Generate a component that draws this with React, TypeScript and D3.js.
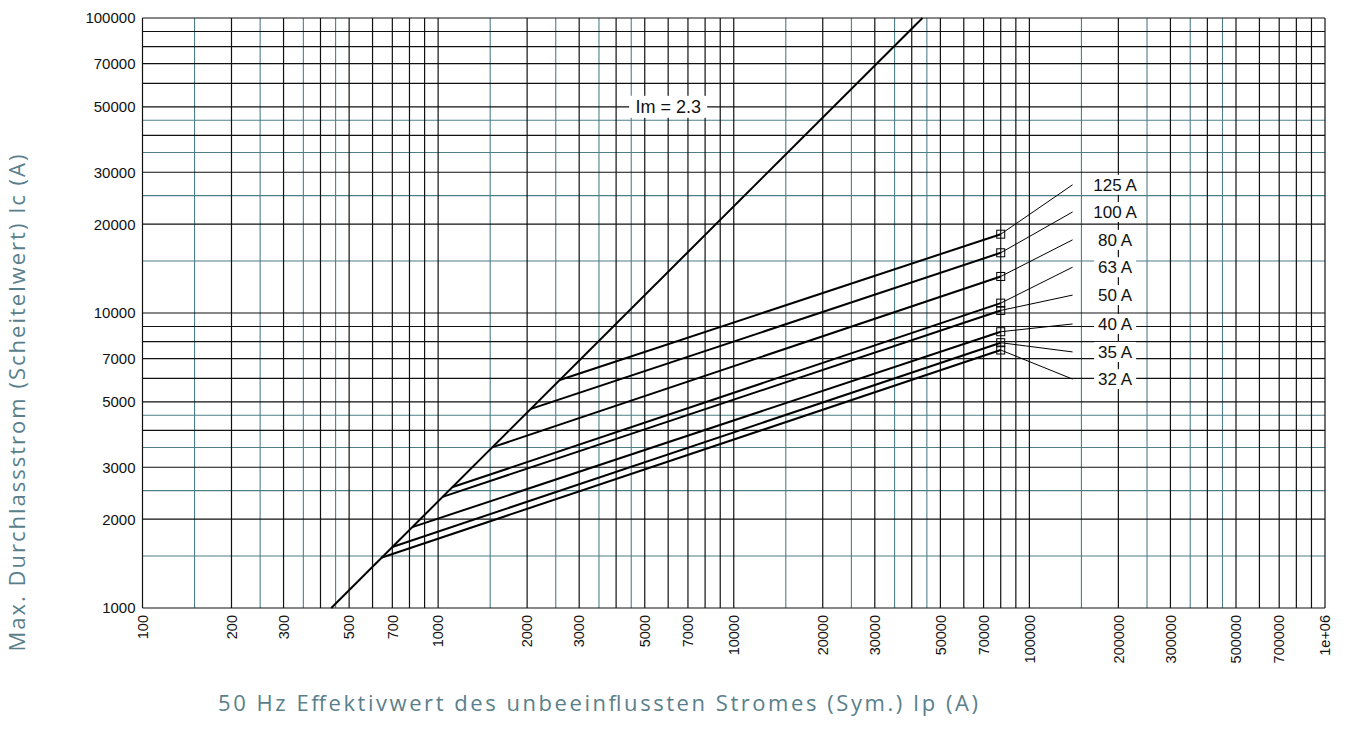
import * as d3 from "d3";

// Ip axis (x) and Ic axis (y) tick labels
const X_TICKS = [100, 200, 300, 500, 700, 1000, 2000, 3000, 5000, 7000, 10000, 20000, 30000, 50000, 70000, 100000, 200000, 300000, 500000, 700000, 1000000];
const Y_TICKS = [1000, 2000, 3000, 5000, 7000, 10000, 20000, 30000, 50000, 70000, 100000];

// grid: black lines at 1..9 per decade, teal lines at 1.5 / 2.5 / 3.5 / 4.5
const MAJOR_MULT = [1, 2, 3, 4, 5, 6, 7, 8, 9];
const MINOR_MULT = [1.5, 2.5, 3.5, 4.5];
const X_DECADES = [100, 1000, 10000, 100000];
const Y_DECADES = [1000, 10000];

// Im = 2.3 line
const IM_IP = [435, 43500];
const IM_IC = [1000, 100000];

// fuse curves: knee on the Im line, end point with marker
const FUSES = ["125 A", "100 A", "80 A", "63 A", "50 A", "40 A", "35 A", "32 A"];
const KNEE_IP = [2580, 2060, 1530, 1120, 1035, 818, 700, 642];
const KNEE_IC = [5930, 4730, 3510, 2570, 2380, 1880, 1610, 1480];
const END_IP = 80000;
const END_IC = [18500, 16000, 13300, 10800, 10200, 8640, 7930, 7490];
// label positions (Ic) in the legend column
const LABEL_IC = [27200, 22000, 17700, 14300, 11500, 9180, 7380, 5970];
const LABEL_IP = 195000;
const LEADER_IP = 140000;

const W = 1347;
const H = 740;
const TEAL = "#4e7f88";
const TITLE = "#5a7f8c";

export default function App() {
  const x = d3.scaleLog().domain([100, 1e6]).range([142.5, 1325]);
  const y = d3.scaleLog().domain([1000, 100000]).range([608, 18]);

  const xMajor = X_DECADES.flatMap((d) => MAJOR_MULT.map((m) => d * m)).concat([1e6]);
  const xMinor = X_DECADES.flatMap((d) => MINOR_MULT.map((m) => d * m));
  const yMajor = Y_DECADES.flatMap((d) => MAJOR_MULT.map((m) => d * m)).concat([100000]);
  const yMinor = Y_DECADES.flatMap((d) => MINOR_MULT.map((m) => d * m));

  const [x0, x1] = x.range();
  const [y0, y1] = y.range();

  const line = d3
    .line<[number, number]>()
    .x((d) => x(d[0]))
    .y((d) => y(d[1]));

  const imPts: [number, number][] = IM_IP.map((v, i) => [v, IM_IC[i]]);
  const fmt = (v: number) => (v >= 1e6 ? "1e+06" : String(v));
  const font = "'Liberation Sans', Arial, Helvetica, sans-serif";
  const titleFont = "'Open Sans', 'Noto Sans', sans-serif";

  return (
    <div style={{ position: "absolute", left: 0, top: 0 }}>
      <svg width={W} height={H} style={{ display: "block", background: "#fff" }}>
        <rect width={W} height={H} fill="#fff" />
        {/* teal minor grid */}
        <g stroke={TEAL} strokeWidth={1.1}>
          {xMinor.map((v) => (
            <line key={"xm" + v} x1={x(v)} x2={x(v)} y1={y0} y2={y1} />
          ))}
          {yMinor.map((v) => (
            <line key={"ym" + v} x1={x0} x2={x1} y1={y(v)} y2={y(v)} />
          ))}
        </g>
        {/* black major grid */}
        <g stroke="#111" strokeWidth={1.2}>
          {xMajor.map((v) => (
            <line key={"xM" + v} x1={x(v)} x2={x(v)} y1={y0} y2={y1} />
          ))}
          {yMajor.map((v) => (
            <line key={"yM" + v} x1={x0} x2={x1} y1={y(v)} y2={y(v)} />
          ))}
        </g>

        {/* tick labels */}
        <g fontFamily={font} fontSize={15} fill="#111">
          {Y_TICKS.map((v) => (
            <text key={"yt" + v} x={x0 - 7} y={y(v)} dy="0.36em" textAnchor="end">
              {fmt(v)}
            </text>
          ))}
        </g>
        <g fontFamily={font} fontSize={14.5} fill="#111">
          {X_TICKS.map((v) => (
            <text
              key={"xt" + v}
              transform={`translate(${x(v)},${y0 + 7}) rotate(-90)`}
              dy="0.36em"
              textAnchor="end"
            >
              {fmt(v)}
            </text>
          ))}
        </g>

        {/* Im line */}
        <path d={line(imPts) ?? ""} fill="none" stroke="#000" strokeWidth={2} />

        {/* fuse curves */}
        <g fill="none" stroke="#000">
          {FUSES.map((f, i) => (
            <path
              key={"c" + f}
              d={line([[KNEE_IP[i], KNEE_IC[i]], [END_IP, END_IC[i]]]) ?? ""}
              strokeWidth={2}
            />
          ))}
          {FUSES.map((f, i) => (
            <path
              key={"l" + f}
              d={line([[END_IP, END_IC[i]], [LEADER_IP, LABEL_IC[i]]]) ?? ""}
              strokeWidth={1}
            />
          ))}
          {FUSES.map((f, i) => (
            <rect
              key={"m" + f}
              x={x(END_IP) - 4}
              y={y(END_IC[i]) - 4}
              width={8}
              height={8}
              strokeWidth={1}
            />
          ))}
        </g>

        {/* fuse labels */}
        <g fontFamily={font} fontSize={17} fill="#111">
          {FUSES.map((f, i) => {
            const w = f.length * 9.5 + 4;
            return (
              <g key={"t" + f} transform={`translate(${x(LABEL_IP)},${y(LABEL_IC[i])})`}>
                <rect x={-w / 2} y={-10} width={w} height={20} fill="#fff" />
                <text textAnchor="middle" dy="0.36em">
                  {f}
                </text>
              </g>
            );
          })}
        </g>

        {/* Im label */}
        <g transform={`translate(${x(6000)},${y(50000)})`} fontFamily={font} fontSize={18} fill="#111">
          <rect x={-39} y={-11} width={78} height={22} fill="#fff" />
          <text textAnchor="middle" dy="0.36em">
            Im = 2.3
          </text>
        </g>

        {/* axis titles */}
        <text
          x={598}
          y={711}
          textAnchor="middle"
          fontFamily={titleFont}
          fontSize={22}
          fill={TITLE}
          textLength={760}
          lengthAdjust="spacing"
        >
          50 Hz Effektivwert des unbeeinflussten Stromes (Sym.) Ip (A)
        </text>
        <text
          transform="translate(25,403) rotate(-90)"
          textAnchor="middle"
          fontFamily={titleFont}
          fontSize={22}
          fill={TITLE}
          textLength={497}
          lengthAdjust="spacing"
        >
          Max. Durchlassstrom (Scheitelwert) Ic (A)
        </text>
      </svg>
    </div>
  );
}
